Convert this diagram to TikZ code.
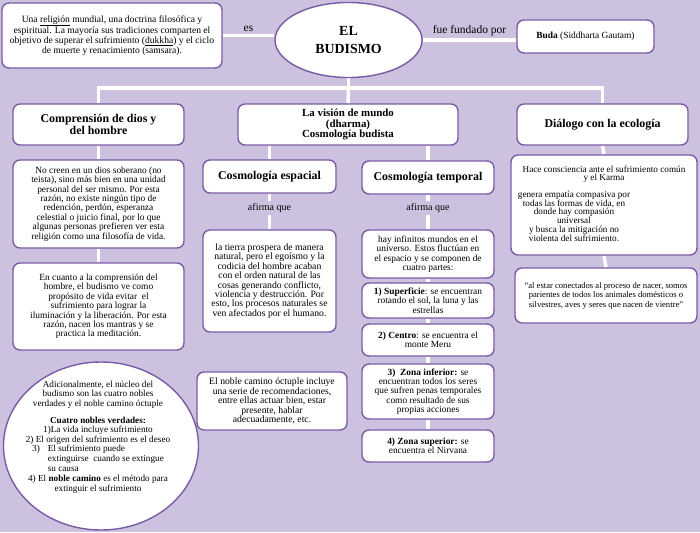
\documentclass[tikz,border=0pt]{standalone}
\usepackage{fontspec}
\setmainfont{Liberation Serif}
\usetikzlibrary{positioning, shapes.geometric}
\definecolor{fondo}{RGB}{204,193,222}
\definecolor{morado}{RGB}{123,91,166}
\pgfdeclarelayer{background}
\pgfsetlayers{background,main}

\begin{document}
\begin{tikzpicture}[
    x=1pt, y=-1pt,
    caja/.style={draw=morado, line width=1.4pt, fill=white, rounded corners=7pt, align=center, inner sep=2pt},
    conector/.style={draw=white, line width=3.5pt},
    texto/.style={font=\fontsize{9.4}{9.4}\selectfont},
    titulo/.style={font=\bfseries\fontsize{11.9}{12.7}\selectfont},
    etiqueta/.style={font=\fontsize{10}{12}\selectfont, inner sep=2pt}
]
  \useasboundingbox (0,0) rectangle (700,532);

  % 顶部
  \node[caja, font=\fontsize{9.6}{8.5}\selectfont, minimum width=220pt, minimum height=65pt] (def) at (112,35.5) {Una \underline{religión} mundial, una doctrina filosófica y\\ espiritual. La mayoría sus tradiciones comparten el\\ objetivo de superar el sufrimiento (\underline{dukkha}) y el ciclo\\ de muerte y renacimiento (samsara).};
  \node[ellipse, draw=morado, line width=1.4pt, fill=white, align=center, inner sep=0pt, minimum width=147pt, minimum height=75pt, font=\bfseries\fontsize{13.9}{18}\selectfont] (budismo) at (348.5,40) {EL\\BUDISMO};
  \node[caja, font=\fontsize{9.4}{11}\selectfont, minimum width=137pt, minimum height=33pt] (buda) at (585.5,36.5) {\textbf{Buda} (Siddharta Gautam)};

  % 三个主题
  \node[caja, titulo, minimum width=171pt, minimum height=41pt] (dios) at (98.5,124.5) {Comprensión de dios y\\del hombre};
  \node[caja, titulo, font=\bfseries\fontsize{10.9}{10.2}\selectfont, minimum width=220pt, minimum height=41pt] (vision) at (348,124.5) {La visión de mundo\\(dharma)\\Cosmología budista};
  \node[caja, titulo, minimum width=171pt, minimum height=41pt] (ecologia) at (602.5,124.5) {Diálogo con la ecología};

  % 左列
  \node[caja, texto, minimum width=171pt, minimum height=88pt] (dios1) at (98.5,204) {No creen en un dios soberano (no\\ teista), sino más bien en una unidad\\ personal del ser mismo. Por esta\\ razón, no existe ningún tipo de\\ redención, perdón, esperanza\\ celestial o juicio final, por lo que\\ algunas personas prefieren ver esta\\ religión como una filosofía de vida.};
  \node[caja, texto, minimum width=171pt, minimum height=87pt] (dios2) at (98.5,306.5) {En cuanto a la comprensión del\\ hombre, el budismo ve como\\ propósito de vida evitar\ \ el\\ sufrimiento para lograr la\\ iluminación y la liberación. Por esta\\ razón, nacen los mantras y se\\ practica la meditación.};
  \node[ellipse, draw=morado, line width=1.4pt, fill=white, minimum width=195pt, minimum height=168pt] (nucleo) at (101,446) {};
  \node[align=center, font=\fontsize{9.2}{9.6}\selectfont] (verdades) at (98,437) {Adicionalmente, el núcleo del\\ budismo son las cuatro nobles\\ verdades y el noble camino óctuple\\[7pt] \textbf{Cuatro nobles verdades:}\\ 1)La vida incluye sufrimiento\\ 2) El origen del sufrimiento es el deseo\\ \begin{tabular}[t]{@{}l@{\hspace{8pt}}l@{}}3) & El sufrimiento puede\\ & extinguirse\ \ cuando se extingue\\ & su causa\end{tabular}\\ 4) El \textbf{noble camino} es el método para\\ extinguir el sufrimiento};

  % 中列
  \node[caja, titulo, minimum width=133pt, minimum height=33pt] (espacial) at (269.5,176.5) {Cosmología espacial};
  \node[etiqueta] (afirma1) at (269.5,208) {afirma que};
  \node[caja, font=\fontsize{9.7}{9.4}\selectfont, minimum width=133pt, minimum height=102pt] (tierra) at (269.5,281) {la tierra prospera de manera\\ natural, pero el egoísmo y la\\ codicia del hombre acaban\\ con el orden natural de las\\ cosas generando conflicto,\\ violencia y destrucción. Por\\ esto, los procesos naturales se\\ ven afectados por el humano.};
  \node[caja, font=\fontsize{9.7}{9.5}\selectfont, minimum width=150pt, minimum height=58pt] (octuple) at (272,401) {El noble camino óctuple incluye\\ una serie de recomendaciones,\\ entre ellas actuar bien, estar\\ presente, hablar\\ adecuadamente, etc.};

  \node[caja, titulo, minimum width=132pt, minimum height=33pt] (temporal) at (428,177.5) {Cosmología temporal};
  \node[etiqueta] (afirma2) at (428,208) {afirma que};
  \node[caja, texto, minimum width=132pt, minimum height=48pt] (mundos) at (428,254) {hay infinitos mundos en el\\ universo. Estos fluctúan en\\ el espacio y se componen de\\ cuatro partes:};
  \node[caja, texto, minimum width=132pt, minimum height=35pt] (superficie) at (428,300.5) {\textbf{1) Superficie}: se encuentran\\ rotando el sol, la luna y las\\ estrellas};
  \node[caja, texto, minimum width=132pt, minimum height=32pt] (centro) at (428,340) {\textbf{2) Centro}: se encuentra el\\ monte Meru};
  \node[caja, texto, minimum width=132pt, minimum height=55pt] (inferior) at (428,391.5) {\textbf{3)\ \ Zona inferior:} se\\ encuentran todos los seres\\ que sufren penas temporales\\ como resultado de sus\\ propias acciones};
  \node[caja, texto, minimum width=132pt, minimum height=32pt] (superior) at (428,446) {\textbf{4) Zona superior:} se\\ encuentra el Nirvana};

  % 右列
  \node[caja, font=\fontsize{9.2}{8.3}\selectfont, minimum width=186pt, minimum height=100pt] (karma) at (604,205) {Hace consciencia ante el sufrimiento común\\ y el Karma\\[7pt] \begin{tabular}[t]{@{}c@{}}genera empatía compasiva por\\ todas las formas de vida, en\\ donde hay compasión\\ universal\\ y busca la mitigación no\\ violenta del sufrimiento.\end{tabular}\hspace*{60pt}};
  \node[caja, font=\fontsize{8.6}{9.5}\selectfont, minimum width=182pt, minimum height=55pt] (parientes) at (606,295.5) {“al estar conectados al proceso de nacer, somos\\ parientes de todos los animales domésticos o\\ silvestres, aves y seres que nacen de vientre”};

  % 连线
  \begin{pgfonlayer}{background}
    \fill[fondo] (0,0) rectangle (700,532);
    \draw[conector] (def.east) -- (def.east -| budismo.west) node[midway, above, etiqueta, font=\fontsize{11.5}{13}\selectfont] {es};
    \draw[conector] (budismo.east) -- (budismo.east -| buda.west) node[midway, above, etiqueta, font=\fontsize{11.5}{13}\selectfont] {fue fundado por};
    \coordinate (rama) at (348.5,88);
    \draw[conector] (budismo.south) -- (rama);
    \draw[conector] (dios.north) |- (rama) -| (ecologia.north);
    \draw[conector] (rama) -- (vision.north);
    \draw[conector] (dios.south) -- (dios1.north);
    \draw[conector] (dios1.south) -- (dios2.north);
    \draw[conector] (vision.south -| espacial.north) -- (espacial.north);
    \draw[conector] (vision.south -| temporal.north) -- (temporal.north);
    \draw[conector] (espacial.south) -- (afirma1.north);
    \draw[conector] (afirma1.south) -- (tierra.north);
    \draw[conector] (temporal.south) -- (afirma2.north);
    \draw[conector] (afirma2.south) -- (mundos.north);
    \draw[conector] (mundos.south) -- (superficie.north);
    \draw[conector] (superficie.south) -- (centro.north);
    \draw[conector] (centro.south) -- (inferior.north);
    \draw[conector] (inferior.south) -- (superior.north);
    \draw[conector] (ecologia.south) -- (karma.north);
    \draw[conector] (karma.south) -- (parientes.north);
  \end{pgfonlayer}
\end{tikzpicture}
\end{document}
